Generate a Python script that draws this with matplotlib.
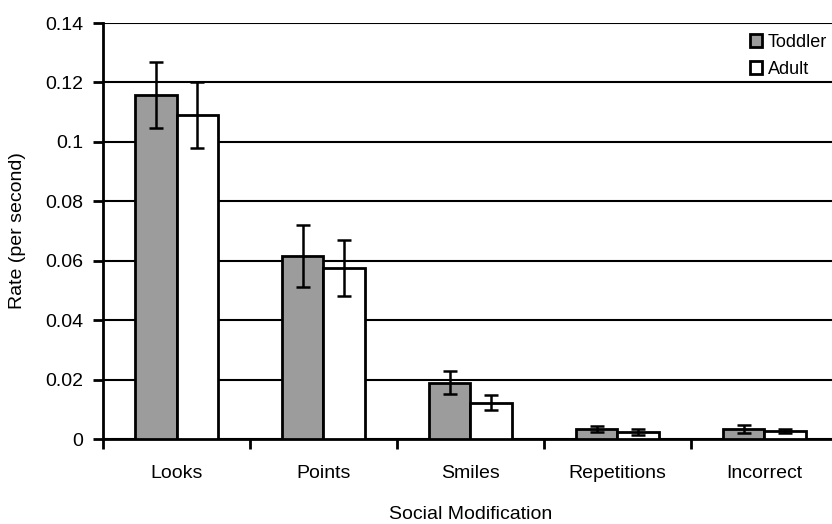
import matplotlib.pyplot as plt
import numpy as np

plt.rcParams['font.family'] = ['Liberation Sans', 'DejaVu Sans']

categories = ['Looks', 'Points', 'Smiles', 'Repetitions', 'Incorrect']
toddler = [0.1158, 0.0615, 0.0190, 0.0034, 0.0034]
toddler_err = [0.0110, 0.0105, 0.0040, 0.0010, 0.0013]
adult = [0.1090, 0.0575, 0.0122, 0.0023, 0.0027]
adult_err = [0.0110, 0.0095, 0.0026, 0.0010, 0.0006]

fig = plt.figure(figsize=(8.32, 5.24), dpi=100)
ax = fig.add_axes([0.1238, 0.1622, 0.8834, 0.7939])

x = np.arange(len(categories))
w = 0.285
ax.bar(x - w / 2, toddler, w, color='#9c9c9c', edgecolor='black', linewidth=2, label='Toddler', zorder=3)
ax.bar(x + w / 2, adult, w, color='white', edgecolor='black', linewidth=2, label='Adult', zorder=3)
ax.errorbar(x - w / 2, toddler, yerr=toddler_err, fmt='none', ecolor='black', elinewidth=1.8,
            capsize=5, capthick=1.8, zorder=4)
ax.errorbar(x + w / 2, adult, yerr=adult_err, fmt='none', ecolor='black', elinewidth=1.8,
            capsize=5, capthick=1.8, zorder=4)

ax.set_xlim(-0.5, len(categories) - 0.5)
ax.set_ylim(0, 0.14)
ax.set_yticks(np.arange(0, 0.141, 0.02))
ax.set_yticklabels(['0', '0.02', '0.04', '0.06', '0.08', '0.1', '0.12', '0.14'])
ax.yaxis.grid(True, color='black', linewidth=1.5, zorder=0)
ax.set_axisbelow(True)

ax.set_xticks(np.arange(-0.5, len(categories), 1.0))
ax.set_xticklabels([])
ax.set_xticks(x, minor=True)
ax.set_xticklabels(categories, minor=True)
ax.tick_params(axis='x', which='minor', length=0, pad=19, labelsize=14)
ax.tick_params(axis='x', which='major', length=7, width=2, direction='out')
ax.tick_params(axis='y', length=7, width=2, direction='out', labelsize=14, pad=7)

for s in ['top', 'right']:
    ax.spines[s].set_visible(False)
ax.spines['left'].set_linewidth(2)
ax.spines['bottom'].set_linewidth(2)

ax.set_ylabel('Rate (per second)', fontsize=14, labelpad=14)
ax.set_xlabel('Social Modification', fontsize=14, labelpad=17)

ax.legend(loc='upper right', bbox_to_anchor=(1.0, 1.0), frameon=False, fontsize=13,
          handlelength=0.7, handleheight=0.7, handletextpad=0.3, labelspacing=0.55,
          borderaxespad=0.2)

fig.savefig('out.png', dpi=100)
